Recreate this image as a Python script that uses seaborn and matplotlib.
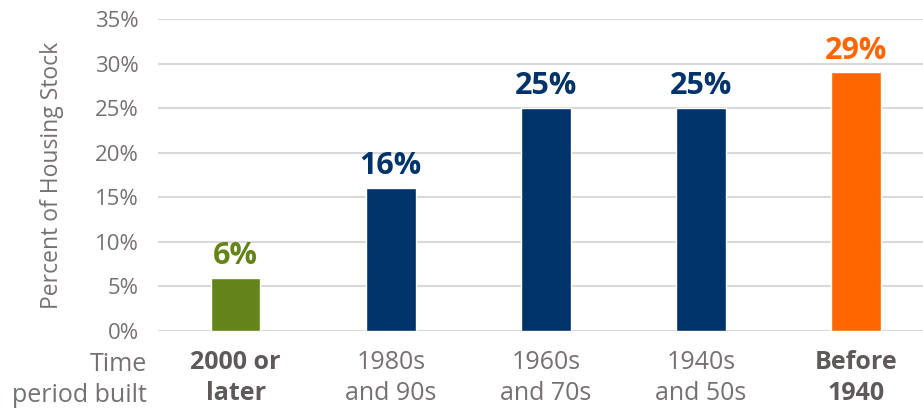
import matplotlib
matplotlib.use("Agg")
import pandas as pd
import seaborn as sns
import matplotlib.pyplot as plt
from matplotlib.ticker import PercentFormatter

# Share of housing stock by period built
periods = ["2000 or\nlater", "1980s\nand 90s", "1960s\nand 70s", "1940s\nand 50s", "Before\n1940"]
shares = [6, 16, 25, 25, 29]
bar_colors = ["#648419", "#00336A", "#00336A", "#00336A", "#FF6600"]
bold_ticks = [True, False, False, False, True]

df = pd.DataFrame({"period": periods, "share": shares})

sns.set_style("white")
plt.rcParams["font.family"] = ["Open Sans", "DejaVu Sans"]

gray = "#767171"
dark_gray = "#5E5A5A"

fig = plt.figure(figsize=(9.23, 4.13), dpi=100)
ax = fig.add_axes([158 / 923, 82 / 413, 765 / 923, 312 / 413])

sns.barplot(data=df, x="period", y="share", hue="period", palette=bar_colors,
            width=0.32, saturation=1, legend=False, ax=ax)

ax.set_ylim(0, 35)
ax.set_xlim(-0.5, 4.43)
ax.set_yticks(range(0, 36, 5))
ax.yaxis.set_major_formatter(PercentFormatter(decimals=0))
ax.grid(axis="y", color="#D9D9D9", linewidth=1.5)
ax.set_axisbelow(True)
sns.despine(ax=ax, left=True, bottom=True)
ax.tick_params(axis="both", length=0, colors=gray)
ax.tick_params(axis="y", pad=14, labelsize=16)
ax.tick_params(axis="x", pad=14, labelsize=18)

ax.set_xlabel("")
ax.set_ylabel("Percent of Housing Stock", fontsize=16.5, color=gray, labelpad=22)

for lbl, bold in zip(ax.get_xticklabels(), bold_ticks):
    lbl.set_linespacing(1.3)
    if bold:
        lbl.set_fontweight("bold")
        lbl.set_color(dark_gray)

for i, (v, c) in enumerate(zip(shares, bar_colors)):
    ax.annotate(f"{v}%", (i, v), xytext=(0, 5), textcoords="offset points",
                ha="center", va="bottom", fontsize=22, fontweight="bold", color=c)

fig.text(147 / 923, 1 - 352 / 413, "Time\nperiod built", ha="right", va="top",
         fontsize=18, color=gray, linespacing=1.3)

fig.savefig("out.png", dpi=100)
